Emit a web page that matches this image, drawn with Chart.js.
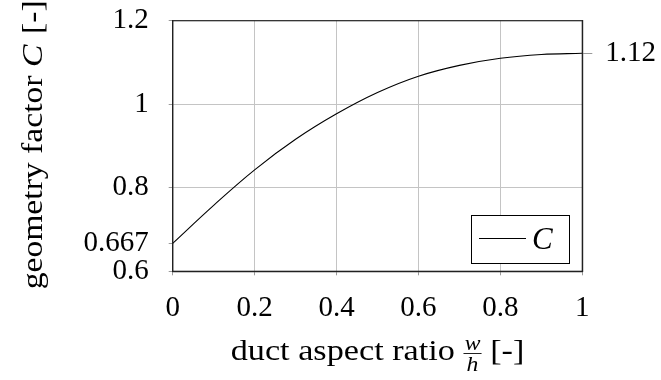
<!DOCTYPE html>
<html><head><meta charset="utf-8">
<script src="https://cdn.jsdelivr.net/npm/chart.js@4"></script>
<style>html,body{margin:0;padding:0;background:#fff}#wrap{width:661px;height:380px}</style>
</head><body><div id="wrap"><canvas id="c" width="661" height="380"></canvas></div>
<script>
// ---- data ----
const aspectRatio = [0, 0.1, 0.2, 0.3, 0.4, 0.5, 0.6, 0.7, 0.8, 0.9, 1.0];
const geometryFactor = [0.667, 0.758, 0.843, 0.916, 0.977, 1.028, 1.067, 1.093, 1.110, 1.119, 1.122];
const seriesLabel = 'C';
const xTicks = [0, 0.2, 0.4, 0.6, 0.8, 1];
const xTickLabels = ['0', '0.2', '0.4', '0.6', '0.8', '1'];
const yTicksLeft = [0.6, 0.667, 0.8, 1, 1.2];
const yTickLabelsLeft = ['0.6', '0.667', '0.8', '1', '1.2'];
const yTicksRight = [1.122];
const yTickLabelsRight = ['1.12'];
const yGridValues = [0.8, 1];
const xTitle = 'duct aspect ratio';
const xTitleFracTop = 'w';
const xTitleFracBottom = 'h';
const xTitleUnit = '[-]';
const yTitle = 'geometry factor';
const yTitleSymbol = 'C';
const yTitleUnit = '[-]';

const FONT = '"Liberation Serif", "Times New Roman", serif';
const GRID = '#c4c4c4';
const TICKC = '#9a9a9a';

const points = aspectRatio.map((x, i) => ({x: x, y: geometryFactor[i]}));

const decor = {
  id: 'decor',
  afterDraw(chart) {
    const ctx = chart.ctx, a = chart.chartArea;
    ctx.save();
    // full frame
    ctx.strokeStyle = '#222';
    ctx.lineWidth = 1.2;
    ctx.strokeRect(a.left, a.top, a.right - a.left, a.bottom - a.top);

    // x title with fraction (stretched horizontally to match the wider serif of the reference)
    ctx.fillStyle = '#000';
    ctx.textBaseline = 'alphabetic';
    const big = '29px ' + FONT, small = 'italic 20px ' + FONT;
    ctx.font = big;
    const t1 = xTitle + ' ';
    const w1 = ctx.measureText(t1).width;
    const t3 = ' ' + xTitleUnit;
    const w3 = ctx.measureText(t3).width;
    ctx.font = small;
    const fw = Math.max(ctx.measureText(xTitleFracTop).width, ctx.measureText(xTitleFracBottom).width) + 2;
    const sx = 1.18;
    const total = (w1 + fw + w3) * sx;
    const cx = (a.left + a.right) / 2;
    const base = 360;
    ctx.save();
    ctx.translate(cx - total / 2, base);
    ctx.scale(sx, 1);
    ctx.font = big; ctx.textAlign = 'left';
    ctx.fillText(t1, 0, 0);
    ctx.font = small; ctx.textAlign = 'center';
    const fx = w1 + fw / 2;
    ctx.fillText(xTitleFracTop, fx, -10);
    ctx.fillText(xTitleFracBottom, fx, 11);
    ctx.strokeStyle = '#000'; ctx.lineWidth = 0.8;
    ctx.beginPath(); ctx.moveTo(w1, -6.5); ctx.lineTo(w1 + fw, -6.5); ctx.stroke();
    ctx.font = big; ctx.textAlign = 'left';
    ctx.fillText(t3, w1 + fw, 0);
    ctx.restore();

    // y title rotated
    ctx.save();
    ctx.translate(42, (a.top + a.bottom) / 2 + 0);
    ctx.rotate(-Math.PI / 2);
    const sy = 1.16;
    ctx.scale(sy, 1);
    ctx.font = big;
    const y1 = yTitle + ' ';
    const yw1 = ctx.measureText(y1).width;
    ctx.font = 'italic 29px ' + FONT;
    const yw2 = ctx.measureText(yTitleSymbol).width;
    ctx.font = big;
    const y3 = ' ' + yTitleUnit;
    const yw3 = ctx.measureText(y3).width;
    let s = -(yw1 + yw2 + yw3) / 2;
    ctx.textAlign = 'left';
    ctx.fillText(y1, s, 0);
    ctx.font = 'italic 29px ' + FONT;
    ctx.fillText(yTitleSymbol, s + yw1, 0);
    ctx.font = big;
    ctx.fillText(y3, s + yw1 + yw2 + 2, 0);
    ctx.restore();

    // legend
    const lx = 471.5, ly = 215.5, lw = 98, lh = 48;
    ctx.fillStyle = '#fff';
    ctx.fillRect(lx, ly, lw, lh);
    ctx.strokeStyle = '#000'; ctx.lineWidth = 1;
    ctx.strokeRect(lx, ly, lw, lh);
    ctx.beginPath(); ctx.moveTo(479, 238.5); ctx.lineTo(526, 238.5); ctx.stroke();
    ctx.fillStyle = '#000';
    ctx.font = 'italic 31px ' + FONT; ctx.textAlign = 'left';
    ctx.fillText(chart.data.datasets[0].label, 532, 249);
    ctx.restore();
  }
};

function noPad(s) { s.paddingTop = 0; s.paddingBottom = 0; s.paddingLeft = 0; s.paddingRight = 0; }

new Chart(document.getElementById('c'), {
  type: 'line',
  data: {
    datasets: [{
      label: seriesLabel,
      data: points,
      borderColor: '#000',
      borderWidth: 1.1,
      pointRadius: 0,
      fill: false,
      tension: 0.4,
      yAxisID: 'y'
    }]
  },
  options: {
    responsive: false,
    animation: false,
    devicePixelRatio: 1,
    layout: {padding: {top: 20.7, left: 0, right: 0, bottom: 0}},
    plugins: {legend: {display: false}, tooltip: {enabled: false}},
    scales: {
      x: {
        type: 'linear', min: 0, max: 1,
        afterBuildTicks: s => { s.ticks = xTicks.map(v => ({value: v})); },
        afterFit: s => { s.height = 108.7; noPad(s); },
        ticks: {
          font: {family: FONT, size: 29}, color: '#000', padding: 16, maxRotation: 0,
          callback: (v) => { const i = xTicks.findIndex(t => Math.abs(t - v) < 1e-9); return i >= 0 ? xTickLabels[i] : ''; }
        },
        grid: {
          color: c => (c.tick && c.tick.value > 0.001 && c.tick.value < 0.999) ? GRID : 'rgba(0,0,0,0)',
          tickColor: TICKC, tickLength: 4, lineWidth: 1
        },
        border: {display: true, color: '#222', width: 1.2}
      },
      y: {
        type: 'linear', position: 'left', min: 0.6, max: 1.2,
        afterBuildTicks: s => { s.ticks = yTicksLeft.map(v => ({value: v})); },
        afterFit: s => { s.width = 172.7; noPad(s); },
        ticks: {
          font: {family: FONT, size: 29}, color: '#000', padding: 20,
          callback: (v) => { const i = yTicksLeft.findIndex(t => Math.abs(t - v) < 1e-9); return i >= 0 ? yTickLabelsLeft[i] : ''; }
        },
        grid: {
          color: c => (c.tick && yGridValues.some(g => Math.abs(g - c.tick.value) < 1e-9)) ? GRID : 'rgba(0,0,0,0)',
          tickColor: TICKC, tickLength: 4, lineWidth: 1
        },
        border: {display: true, color: '#222', width: 1.2}
      },
      y2: {
        type: 'linear', position: 'right', min: 0.6, max: 1.2,
        afterBuildTicks: s => { s.ticks = yTicksRight.map(v => ({value: v})); },
        afterFit: s => { s.width = 78.7; noPad(s); },
        ticks: {
          font: {family: FONT, size: 29}, color: '#000', padding: 13,
          callback: (v) => { const i = yTicksRight.findIndex(t => Math.abs(t - v) < 1e-9); return i >= 0 ? yTickLabelsRight[i] : ''; }
        },
        grid: {drawOnChartArea: false, tickColor: TICKC, tickLength: 10},
        border: {display: true, color: '#222', width: 1.2}
      }
    }
  },
  plugins: [decor]
});
</script>
</body></html>
